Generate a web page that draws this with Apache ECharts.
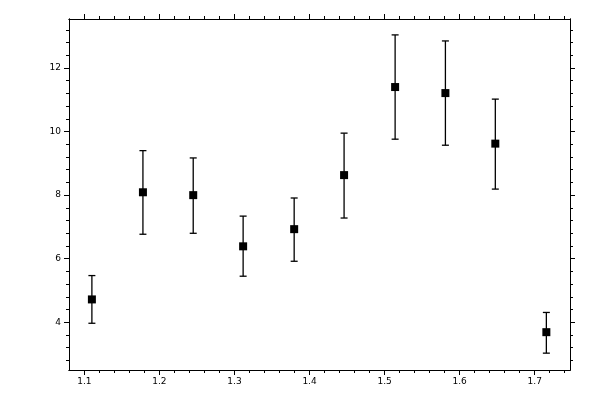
<!DOCTYPE html>
<html><head><meta charset="utf-8">
<script src="https://cdn.jsdelivr.net/npm/echarts@6/dist/echarts.min.js"></script>
<style>html,body{margin:0;padding:0;background:#fff}#c{width:600px;height:400px}</style>
</head><body><div id="c"></div>
<script>
const xValues = [1.110, 1.178, 1.245, 1.3115, 1.3795, 1.446, 1.514, 1.581, 1.6475, 1.7155];
const yValues = [4.72, 8.09, 8.00, 6.39, 6.93, 8.63, 11.40, 11.21, 9.62, 3.69];
const yLow    = [3.97, 6.77, 6.80, 5.45, 5.92, 7.28, 9.76, 9.57, 8.19, 3.03];
const yHigh   = [5.47, 9.40, 9.17, 7.34, 7.91, 9.95, 13.04, 12.85, 11.02, 4.31];
const xMajorTicks = [1.1, 1.2, 1.3, 1.4, 1.5, 1.6, 1.7];
const yMajorTicks = [4, 6, 8, 10, 12];
const xRange = [1.0795, 1.747];
const yRange = [2.5, 13.54];

function minorTicks(lo, hi, step, majors) {
  const out = [];
  for (let i = Math.ceil(lo / step - 1e-9); i * step <= hi + 1e-9; i++) {
    const v = +(i * step).toFixed(4);
    if (v <= lo + 0.001 || v >= hi - 0.001) continue;
    if (majors.some(m => Math.abs(m - v) < 1e-6)) continue;
    out.push(v);
  }
  return out;
}
const xMinor = minorTicks(xRange[0], xRange[1], 0.02, xMajorTicks);
const yMinor = minorTicks(yRange[0], yRange[1], 0.4, yMajorTicks);

const font = { fontFamily: 'DejaVu Sans', fontSize: 9, color: '#000' };
const lineStyle = { color: '#000', width: 1 };

function mkX(pos, ticks, len, labels) {
  return {
    type: 'value', position: pos, min: xRange[0], max: xRange[1],
    axisLine: { show: true, onZero: false, lineStyle },
    splitLine: { show: false },
    axisTick: { show: true, length: len, customValues: ticks, lineStyle },
    axisLabel: labels ? Object.assign({ show: true, margin: 7, customValues: ticks,
      formatter: v => v.toFixed(1) }, font) : { show: false }
  };
}
function mkY(pos, ticks, len, labels) {
  return {
    type: 'value', position: pos, min: yRange[0], max: yRange[1],
    axisLine: { show: true, onZero: false, lineStyle },
    splitLine: { show: false },
    axisTick: { show: true, length: len, customValues: ticks, lineStyle },
    axisLabel: labels ? Object.assign({ show: true, margin: 8, customValues: ticks,
      formatter: v => String(v) }, font) : { show: false }
  };
}

const chart = echarts.init(document.getElementById('c'), null, { renderer: 'canvas' });
chart.setOption({
  animation: false,
  backgroundColor: '#fff',
  grid: { left: 69, right: 30, top: 19, bottom: 30, containLabel: false },
  xAxis: [
    mkX('bottom', xMajorTicks, 5, true),
    mkX('bottom', xMinor, 3, false),
    mkX('top', xMajorTicks, 5, false),
    mkX('top', xMinor, 3, false)
  ],
  yAxis: [
    mkY('left', yMajorTicks, 5, true),
    mkY('left', yMinor, 3, false),
    mkY('right', yMajorTicks, 5, false),
    mkY('right', yMinor, 3, false)
  ],
  series: [
    {
      type: 'custom',
      xAxisIndex: 0, yAxisIndex: 0,
      data: xValues.map((x, i) => [x, yLow[i], yHigh[i]]),
      renderItem: function (params, api) {
        const x = api.value(0);
        const lo = api.coord([x, api.value(1)]);
        const hi = api.coord([x, api.value(2)]);
        const cw = 3.5;
        const st = { stroke: '#000', lineWidth: 1.3 };
        return {
          type: 'group',
          children: [
            { type: 'line', shape: { x1: lo[0], y1: lo[1], x2: hi[0], y2: hi[1] }, style: st },
            { type: 'line', shape: { x1: lo[0] - cw, y1: lo[1], x2: lo[0] + cw, y2: lo[1] }, style: st },
            { type: 'line', shape: { x1: hi[0] - cw, y1: hi[1], x2: hi[0] + cw, y2: hi[1] }, style: st }
          ]
        };
      },
      z: 2
    },
    {
      type: 'scatter',
      xAxisIndex: 0, yAxisIndex: 0,
      symbol: 'rect', symbolSize: 8,
      itemStyle: { color: '#000', opacity: 1 },
      data: xValues.map((x, i) => [x, yValues[i]]),
      z: 3
    }
  ]
});
</script>
</body></html>
